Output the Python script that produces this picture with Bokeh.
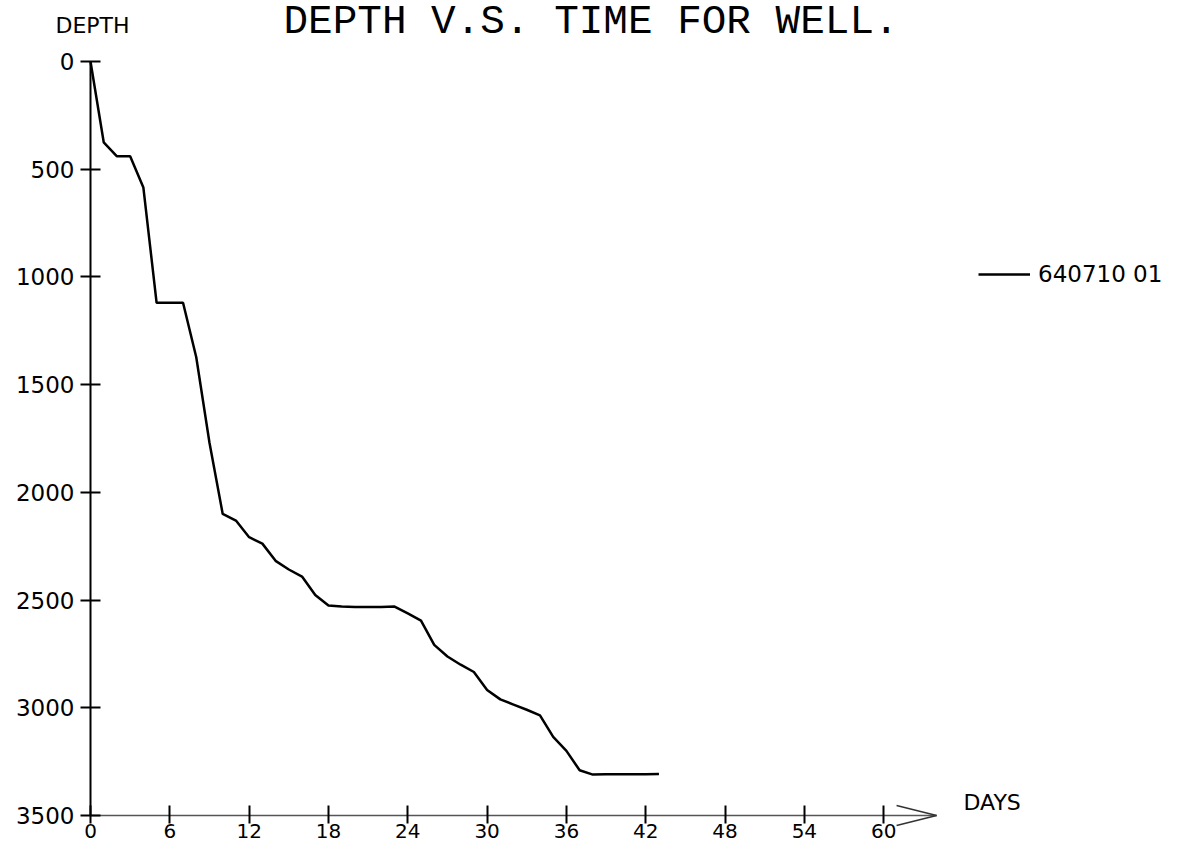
from bokeh.plotting import figure
from bokeh.models import Range1d, FixedTicker, Label, Legend, LegendItem, Arrow, LinearAxis
from bokeh.embed import file_html
from bokeh.resources import INLINE

# ---- data ----
days = [0, 1, 2, 3, 4, 5, 6, 7, 8, 9, 10, 11, 12, 13, 14, 15, 16, 17, 18, 19, 20,
        21, 22, 23, 24, 25, 26, 27, 28, 29, 30, 31, 32, 33, 34, 35, 36, 37, 38,
        39, 40, 41, 42, 43]
depth = [0, 375, 440, 440, 585, 1120, 1120, 1120, 1373, 1770, 2100, 2131, 2208,
         2238, 2318, 2358, 2391, 2476, 2525, 2530, 2532, 2532, 2532, 2530, 2562,
         2595, 2708, 2762, 2800, 2834, 2917, 2961, 2985, 3009, 3035, 3135, 3200,
         3290, 3310, 3309, 3309, 3308, 3308, 3307]
x_ticks = [0, 6, 12, 18, 24, 30, 36, 42, 48, 54, 60]
y_ticks = [0, 500, 1000, 1500, 2000, 2500, 3000, 3500]
well_label = "640710 01"
title_text = "DEPTH V.S. TIME FOR WELL."
y_title = "DEPTH"
x_title = "DAYS"

# ---- layout (pixel positions on the canvas) ----
W, H = 1177, 849
x0_px = 90          # day 0
top_px = 61         # depth 0
bot_px = 815        # depth 3500
px_per_day = 13.22
depth_max = y_ticks[-1]
px_per_depth = (bot_px - top_px) / depth_max
axis_end_day = 64

def dx(px):
    return (px - x0_px) / px_per_day

def dy(py):
    return (py - top_px) / px_per_depth

p = figure(width=W, height=H,
           x_range=Range1d(dx(0), dx(W)), y_range=Range1d(dy(H), dy(0)),
           output_backend="svg", toolbar_location=None,
           x_axis_location=None, y_axis_location=None,
           min_border=0, min_border_left=0, min_border_right=0,
           min_border_top=0, min_border_bottom=0)
p.title.visible = False
p.outline_line_color = None
p.grid.visible = False
p.background_fill_color = "white"
p.border_fill_color = "white"

# y axis (fixed at day 0)
ya = LinearAxis(fixed_location=0, bounds=(0, depth_max))
ya.ticker = FixedTicker(ticks=y_ticks)
ya.major_tick_in = 10
ya.major_tick_out = 10
ya.minor_tick_line_color = None
ya.axis_line_width = 2
ya.axis_line_color = "black"
ya.major_tick_line_width = 2
ya.major_tick_line_color = "black"
ya.major_label_text_font = "DejaVu Sans"
ya.major_label_text_font_size = "23px"
ya.major_label_text_color = "black"
ya.major_label_standoff = 6
p.add_layout(ya, "left")

# x axis (fixed at depth 3500)
xa = LinearAxis(fixed_location=depth_max, bounds=(0, axis_end_day))
xa.ticker = FixedTicker(ticks=x_ticks)
xa.major_tick_in = 10
xa.major_tick_out = 8
xa.minor_tick_line_color = None
xa.axis_line_width = 1.5
xa.axis_line_color = "#555555"
xa.major_tick_line_width = 2
xa.major_tick_line_color = "black"
xa.major_label_text_font = "DejaVu Sans"
xa.major_label_text_font_size = "20px"
xa.major_label_text_color = "black"
xa.major_label_standoff = 0
p.add_layout(xa, "below")

# arrow head at the end of the x axis
head_len = 40 / px_per_day
head_half = 10 / px_per_depth
for sgn in (-1, 1):
    p.add_layout(Arrow(end=None, x_start=axis_end_day - head_len,
                       y_start=depth_max + sgn * head_half,
                       x_end=axis_end_day, y_end=depth_max,
                       line_color="#333333", line_width=1.5))

# data line
r = p.line(days, depth, line_color="black", line_width=2.5)

legend = Legend(items=[LegendItem(label=well_label, renderers=[r])],
                location=(978, 562), padding=0, margin=0, spacing=0,
                border_line_color=None, background_fill_alpha=0,
                glyph_width=52, glyph_height=20, label_standoff=8,
                label_text_font="DejaVu Sans", label_text_font_size="23px",
                label_text_color="black")
p.add_layout(legend)

# texts
p.add_layout(Label(x=dx(283), y=dy(21), text=title_text,
                   text_font="Liberation Mono", text_font_size="41px",
                   text_color="black", text_baseline="alphabetic"))
p.add_layout(Label(x=dx(55), y=dy(25), text=y_title,
                   text_font="DejaVu Sans", text_font_size="22px",
                   text_color="black", text_baseline="alphabetic"))
p.add_layout(Label(x=dx(963), y=dy(802), text=x_title,
                   text_font="DejaVu Sans", text_font_size="22px",
                   text_color="black", text_baseline="alphabetic"))

open("out.html", "w").write(file_html(p, INLINE))
